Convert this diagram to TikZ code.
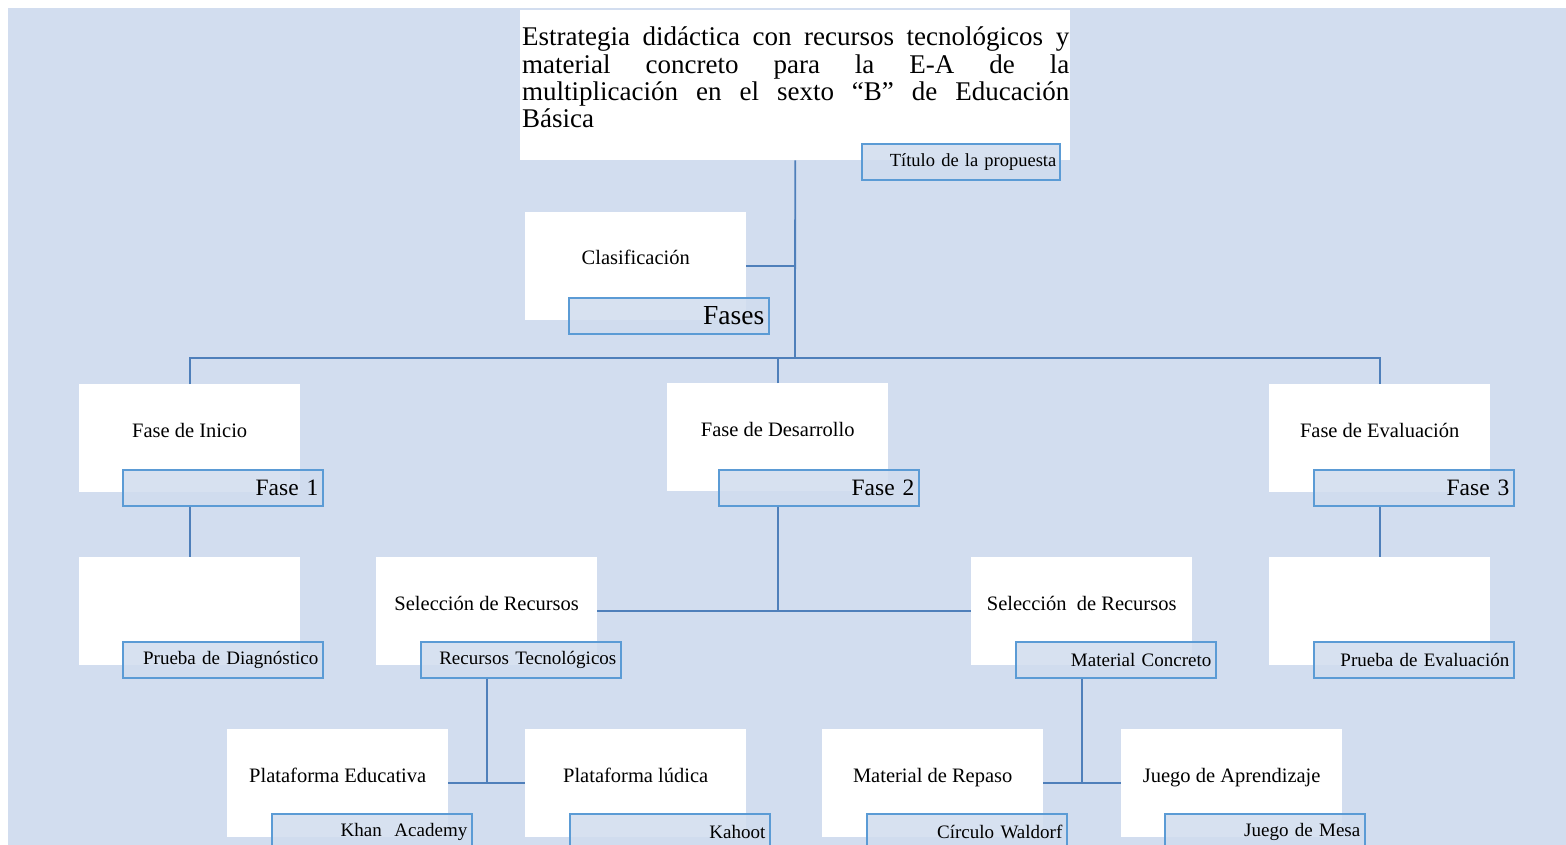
\documentclass[tikz,border=0pt]{standalone}
\usepackage{fontspec}
\setmainfont{Liberation Serif}
\definecolor{bgblue}{HTML}{D2DDEF}
\definecolor{conncol}{HTML}{4F7FBA}
\definecolor{subborder}{HTML}{5B9BD5}
\definecolor{subfill}{HTML}{D0DCEE}
\begin{document}
\begin{tikzpicture}[x=1pt,y=-1pt,
 wbox/.style={fill=white,draw=none,anchor=north west,minimum width=221pt,minimum height=108pt,inner sep=0pt},
 lbl/.style={font=\fontsize{20.5}{24}\selectfont,inner sep=0pt,anchor=base},
 subbox/.style={draw=subborder,line width=1.6pt,fill=subfill,fill opacity=0.85,text opacity=1,anchor=north west,minimum width=200pt,minimum height=36pt,text width=191pt,align=right,inner xsep=4.5pt,inner ysep=0pt,font=\fontsize{19}{22}\selectfont},
 fasefont/.style={font=\fontsize{23.5}{26}\selectfont},
 conn/.style={draw=conncol,line width=1.8pt}]
\useasboundingbox (0,0) rectangle (1566,845);
\clip (0,0) rectangle (1566,845);
\fill[white] (0,0) rectangle (1566,845);
\fill[bgblue] (8,8) rectangle (1566,845);

% title
\node[anchor=north west,fill=white,minimum width=550pt,minimum height=150pt,inner sep=0pt] (title) at (520,10) {};
\node[anchor=north west,inner sep=0pt,align=left,font=\fontsize{27}{27.3}\selectfont] (ttext) at (522,27)
 {\makebox[547pt][s]{Estrategia didáctica con recursos tecnológicos y}\\
  \makebox[547pt][s]{material concreto para la E-A de la}\\
  \makebox[547pt][s]{multiplicación en el sexto “B” de Educación}\\
  Básica};
\node[subbox,minimum width=198pt,text width=191pt,inner xsep=3.5pt,font=\fontsize{18.5}{22}\selectfont] (tsub) at (861,143) {Título de la propuesta};

% clasificacion
\node[wbox] (clas) at (525,212) {};
\node[lbl] (lclas) at ([yshift=-53pt]clas.north) {Clasificación};
\node[subbox,font=\fontsize{27.5}{30}\selectfont] (fases) at (568,297) {Fases};

% phases
\node[wbox] (ini) at (79,384) {};
\node[lbl] (lini) at ([yshift=-53pt]ini.north) {Fase de Inicio};
\node[subbox,fasefont] (f1) at (122,469) {Fase 1};

\node[wbox] (des) at (667,383) {};
\node[lbl] (ldes) at ([yshift=-53pt]des.north) {Fase de Desarrollo};
\node[subbox,fasefont] (f2) at (718,469) {Fase 2};

\node[wbox] (eva) at (1269,384) {};
\node[lbl] (leva) at ([yshift=-53pt]eva.north) {Fase de Evaluación};
\node[subbox,fasefont] (f3) at (1313,469) {Fase 3};

% level 3
\node[wbox] (diag) at (79,557) {};
\node[subbox] (pd) at (122,641) {Prueba de Diagnóstico};

\node[wbox] (sel1) at (376,557) {};
\node[lbl] (lsel1) at ([yshift=-53pt]sel1.north) {Selección de Recursos};
\node[subbox] (rt) at (420,641) {Recursos Tecnológicos};

\node[wbox] (sel2) at (971,557) {};
\node[lbl] (lsel2) at ([yshift=-53pt]sel2.north) {Selección\ \ de Recursos};
\node[subbox] (mc) at (1015,641) {Material Concreto};

\node[wbox] (evb) at (1269,557) {};
\node[subbox] (pe2) at (1313,641) {Prueba de Evaluación};

% level 4
\node[wbox] (pe) at (227,729) {};
\node[lbl] (lpe) at ([yshift=-53pt]pe.north) {Plataforma Educativa};
\node[subbox] (ka) at (271,813) {Khan\ \ Academy};

\node[wbox] (pl) at (525,729) {};
\node[lbl] (lpl) at ([yshift=-53pt]pl.north) {Plataforma lúdica};
\node[subbox] (kh) at (569,813) {Kahoot};

\node[wbox] (mr) at (822,729) {};
\node[lbl] (lmr) at ([yshift=-53pt]mr.north) {Material de Repaso};
\node[subbox] (cw) at (866,813) {Círculo Waldorf};

\node[wbox] (ja) at (1121,729) {};
\node[lbl] (lja) at ([yshift=-53pt]ja.north) {Juego de Aprendizaje};
\node[subbox] (jm) at (1164,813) {Juego de Mesa};

% connectors
\coordinate (hub) at (795,358);
\draw[conn] (title.south) -- (hub);
\draw[conn] (clas.east) -- (clas.east -| title.south);
\draw[conn] (ini.north) -- (ini.north |- hub) -- (eva.north |- hub) -- (eva.north);
\draw[conn] (des.north) -- (des.north |- hub);
\draw[conn] (f1.south -| ini.south) -- (diag.north);
\draw[conn] (f2.south -| des.south) -- (des.south |- sel1.east);
\draw[conn] (sel1.east) -- (sel2.west);
\draw[conn] (f3.south -| eva.south) -- (evb.north);
\draw[conn] (rt.south -| sel1.south) -- (sel1.south |- pe.east);
\draw[conn] (pe.east) -- (pl.west);
\draw[conn] (mc.south -| sel2.south) -- (sel2.south |- mr.east);
\draw[conn] (mr.east) -- (ja.west);
\end{tikzpicture}
\end{document}
